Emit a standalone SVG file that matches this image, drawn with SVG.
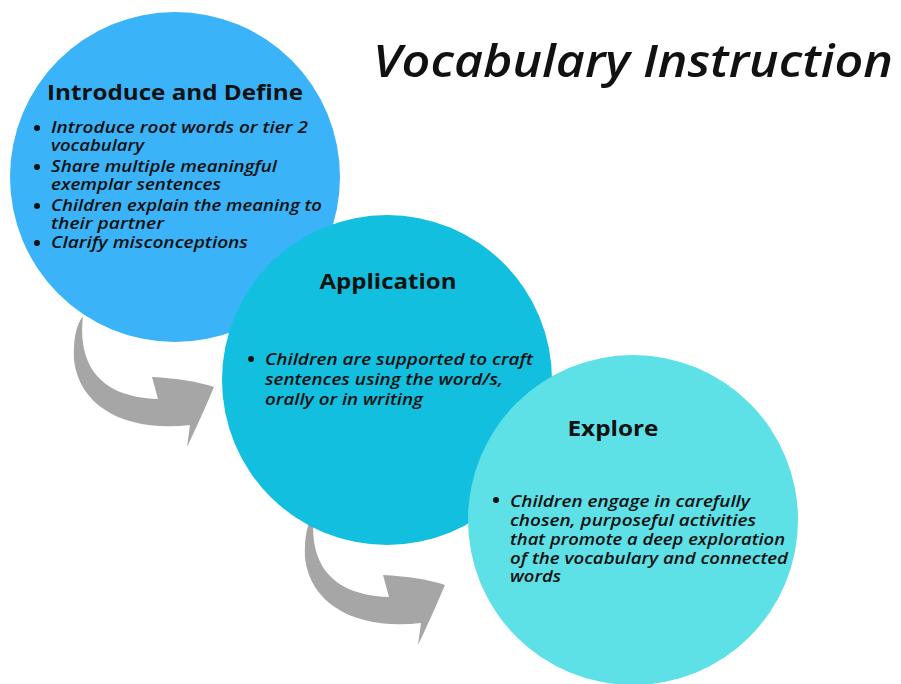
<svg xmlns="http://www.w3.org/2000/svg" width="901" height="684" viewBox="0 0 901 684">
<style>
.title{font-family:"Open Sans","DejaVu Sans",sans-serif;font-style:italic;font-weight:600;font-size:46px;fill:#111}
.head{font-family:"Open Sans","DejaVu Sans",sans-serif;font-weight:700;font-size:22px;fill:#111}
.body{font-family:"Open Sans","DejaVu Sans",sans-serif;font-style:italic;font-weight:600;font-size:16px;fill:#111}
.dot{fill:#111}
.arrow{fill:#a6a6a6}
</style>
<defs>
<path id="curvedArrow" d="M83,316 C78,360 95,397 158,399 L152,377 Q190,379 214,387 Q200,420 187,447 L190,425 C130,432 80,410 74,360 C73,340 76,325 83,316 Z"/>
</defs>
<rect width="901" height="684" fill="#ffffff"/>
<g id="connectors">
<use href="#curvedArrow" class="arrow"/>
<use href="#curvedArrow" class="arrow" transform="translate(231,198)"/>
</g>
<g id="node-introduce">
<circle cx="175" cy="177" r="165" fill="#3bb3f8"/>
<text class="head" x="175" y="100" text-anchor="middle" textLength="256" lengthAdjust="spacingAndGlyphs">Introduce and Define</text>
<circle class="dot" cx="37" cy="128" r="3"/>
<text class="body" x="51" y="133" textLength="257" lengthAdjust="spacingAndGlyphs">Introduce root words or tier 2</text>
<text class="body" x="51" y="151" textLength="93" lengthAdjust="spacingAndGlyphs">vocabulary</text>
<circle class="dot" cx="37" cy="167" r="3"/>
<text class="body" x="51" y="172" textLength="226" lengthAdjust="spacingAndGlyphs">Share multiple meaningful</text>
<text class="body" x="51" y="190" textLength="170" lengthAdjust="spacingAndGlyphs">exemplar sentences</text>
<circle class="dot" cx="37" cy="206" r="3"/>
<text class="body" x="51" y="211" textLength="271" lengthAdjust="spacingAndGlyphs">Children explain the meaning to</text>
<text class="body" x="51" y="229" textLength="113" lengthAdjust="spacingAndGlyphs">their partner</text>
<circle class="dot" cx="37" cy="243" r="3"/>
<text class="body" x="51" y="248" textLength="197" lengthAdjust="spacingAndGlyphs">Clarify misconceptions</text>
</g>
<g id="node-application">
<circle cx="387" cy="380" r="165" fill="#13bfdf"/>
<text class="head" x="388" y="289" text-anchor="middle" textLength="137" lengthAdjust="spacingAndGlyphs">Application</text>
<circle class="dot" cx="251" cy="359" r="3"/>
<text class="body" x="265" y="365" textLength="268" lengthAdjust="spacingAndGlyphs">Children are supported to craft</text>
<text class="body" x="265" y="385" textLength="238" lengthAdjust="spacingAndGlyphs">sentences using the word/s,</text>
<text class="body" x="265" y="405" textLength="158" lengthAdjust="spacingAndGlyphs">orally or in writing</text>
</g>
<g id="node-explore">
<circle cx="633" cy="520" r="165" fill="#5de0e6"/>
<text class="head" x="613" y="436" text-anchor="middle" textLength="91" lengthAdjust="spacingAndGlyphs">Explore</text>
<circle class="dot" cx="496" cy="500" r="3"/>
<text class="body" x="510" y="507" textLength="240" lengthAdjust="spacingAndGlyphs">Children engage in carefully</text>
<text class="body" x="510" y="526" textLength="246" lengthAdjust="spacingAndGlyphs">chosen, purposeful activities</text>
<text class="body" x="510" y="545" textLength="275" lengthAdjust="spacingAndGlyphs">that promote a deep exploration</text>
<text class="body" x="510" y="564" textLength="278" lengthAdjust="spacingAndGlyphs">of the vocabulary and connected</text>
<text class="body" x="510" y="582" textLength="51" lengthAdjust="spacingAndGlyphs">words</text>
</g>
<g id="title">
<text class="title" x="373" y="77" textLength="520" lengthAdjust="spacingAndGlyphs">Vocabulary Instruction</text>
</g>
</svg>
